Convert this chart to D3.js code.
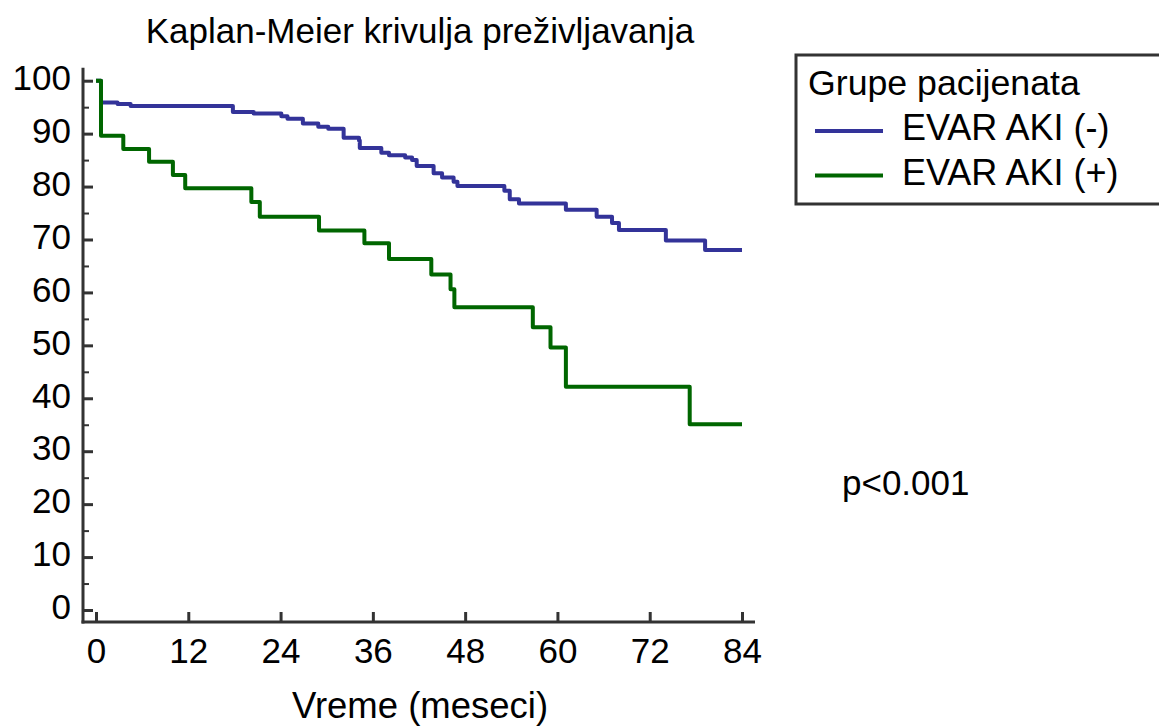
<!DOCTYPE html>
<html><head><meta charset="utf-8">
<script src="https://cdn.jsdelivr.net/npm/d3@7"></script>
<style>
html,body{margin:0;padding:0;background:#fff;}
svg{display:block;font-family:"Liberation Sans",Arial,sans-serif;}
</style></head>
<body>
<svg id="chart" width="1159" height="726"></svg>
<script>
// ---- data ----
const title = "Kaplan-Meier krivulja preživljavanja";
const xLabel = "Vreme (meseci)";
const legendTitle = "Grupe pacijenata";
const seriesNames = ["EVAR AKI (-)", "EVAR AKI (+)"];
const pText = "p<0.001";
const xTicks = [0, 12, 24, 36, 48, 60, 72, 84];
const yTicks = [0, 10, 20, 30, 40, 50, 60, 70, 80, 90, 100];
const yMinorTicks = [5, 15, 25, 35, 45, 55, 65, 75, 85, 95];

// Kaplan-Meier step points: [month, survival %] (value holds until next time)
const aki0Times = [0, 0.65, 2.8, 4.5, 17.8, 20.5, 24.1, 24.9, 26.9, 28.9, 30.2, 32.2, 34.2, 34.3, 37.1, 38.1, 40.2, 41.1, 41.7, 43.9, 45.0, 46.5, 47.0, 53.1, 53.8, 55.0, 61.1, 65.1, 67.1, 68.0, 74.1, 79.2, 84];
const aki0Surv  = [100, 95.9, 95.6, 95.2, 94.1, 93.8, 93.3, 92.8, 91.9, 91.3, 90.9, 89.2, 88.7, 87.3, 86.4, 85.9, 85.5, 85.0, 83.9, 82.5, 81.7, 80.9, 80.1, 79.2, 77.6, 76.8, 75.6, 74.3, 73.1, 71.8, 69.8, 68.0, 68.0];
const aki1Times = [0, 0.65, 3.55, 6.9, 10.0, 11.6, 20.2, 21.3, 29.0, 34.9, 38.1, 43.6, 46.1, 46.6, 56.8, 59.1, 61.1, 77.2, 84];
const aki1Surv  = [100, 89.6, 87.1, 84.7, 82.2, 79.7, 77.1, 74.3, 71.7, 69.3, 66.3, 63.4, 60.6, 57.2, 53.4, 49.6, 42.2, 35.1, 35.1];
const colors = ["#333399", "#006600"];

// ---- drawing ----
const svg = d3.select("#chart");
const x = d3.scaleLinear().domain([0, 84]).range([96, 742]);
const y = d3.scaleLinear().domain([0, 100]).range([610, 80.7]);
const axisColor = "#333333";
const fs = 35;

// title
svg.append("text").attr("x", 420).attr("y", 43).attr("text-anchor", "middle")
  .attr("font-size", 35).attr("fill", "#000").text(title);

// y axis
const yAxis = d3.axisLeft(y).tickValues(yTicks).tickSizeInner(-10).tickSizeOuter(0).tickPadding(12);
const gy = svg.append("g").attr("transform", "translate(83,0)").call(yAxis);
gy.select(".domain").remove();
gy.selectAll(".tick line").attr("stroke", axisColor).attr("stroke-width", 3);
gy.selectAll(".tick text").attr("font-size", fs).attr("fill", "#000").attr("dy", "0.25em")
  .attr("font-family", "Liberation Sans, Arial, sans-serif");
const gyMinor = svg.append("g").attr("transform", "translate(83,0)")
  .call(d3.axisLeft(y).tickValues(yMinorTicks).tickSizeInner(-6).tickSizeOuter(0).tickFormat(""));
gyMinor.select(".domain").remove();
gyMinor.selectAll(".tick line").attr("stroke", axisColor).attr("stroke-width", 2);

// x axis
const xAxis = d3.axisBottom(x).tickValues(xTicks).tickSizeInner(-10).tickSizeOuter(0).tickPadding(16);
const gx = svg.append("g").attr("transform", "translate(0,622)").call(xAxis);
gx.select(".domain").remove();
gx.selectAll(".tick line").attr("stroke", axisColor).attr("stroke-width", 3);
gx.selectAll(".tick text").attr("font-size", fs).attr("fill", "#000")
  .attr("font-family", "Liberation Sans, Arial, sans-serif");

// axis lines
svg.append("line").attr("x1", 83).attr("x2", 83).attr("y1", y(100) - 13).attr("y2", 623.5)
  .attr("stroke", axisColor).attr("stroke-width", 3);
svg.append("line").attr("x1", 81.5).attr("x2", x(84) + 13).attr("y1", 622).attr("y2", 622)
  .attr("stroke", axisColor).attr("stroke-width", 3);

// x label
svg.append("text").attr("x", 420).attr("y", 718).attr("text-anchor", "middle")
  .attr("font-size", 36.5).attr("fill", "#000").text(xLabel);

// curves
const line = d3.line().curve(d3.curveStepAfter).x(d => x(d[0])).y(d => y(d[1]));
const series = [d3.zip(aki0Times, aki0Surv), d3.zip(aki1Times, aki1Surv)];
series.forEach((s, i) => {
  svg.append("path").datum(s).attr("d", line).attr("fill", "none")
    .attr("stroke", colors[i]).attr("stroke-width", 4).attr("stroke-linejoin", "round");
});

// legend
svg.append("rect").attr("x", 796).attr("y", 55).attr("width", 380).attr("height", 149)
  .attr("fill", "#fff").attr("stroke", axisColor).attr("stroke-width", 3);
svg.append("text").attr("x", 808).attr("y", 95).attr("font-size", 35.7).attr("fill", "#000").text(legendTitle);
seriesNames.forEach((n, i) => {
  const ly = 131 + i * 44.5;
  svg.append("line").attr("x1", 815).attr("x2", 883).attr("y1", ly).attr("y2", ly)
    .attr("stroke", colors[i]).attr("stroke-width", 4);
  svg.append("text").attr("x", 902).attr("y", ly + 9).attr("font-size", 36).attr("fill", "#000").text(n);
});

// p value
svg.append("text").attr("x", 842).attr("y", 495).attr("font-size", fs).attr("fill", "#000").text(pText);
</script>
</body></html>
